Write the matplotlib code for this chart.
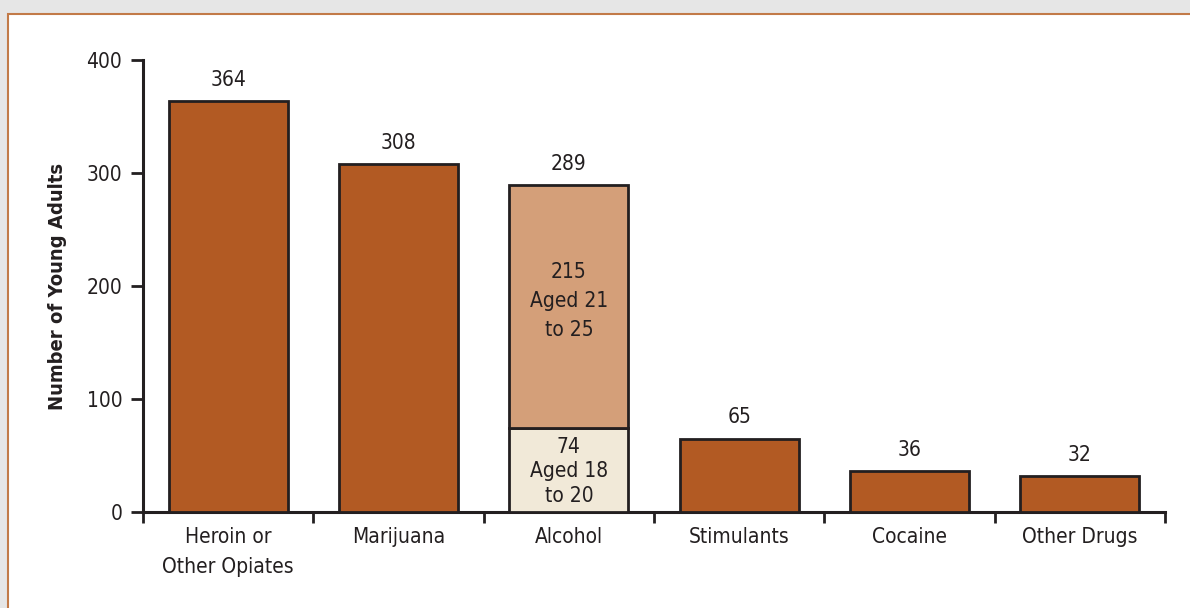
import matplotlib.pyplot as plt
from matplotlib.patches import Rectangle

categories = ["Heroin or\nOther Opiates", "Marijuana", "Alcohol", "Stimulants", "Cocaine", "Other Drugs"]
totals = [364, 308, 289, 65, 36, 32]
alcohol_18_20 = 74
alcohol_21_25 = 215

plt.rcParams["font.family"] = ["DejaVu Sans"]
plt.rcParams["font.stretch"] = "condensed"

dark = "#231f20"
rust = "#b25a23"

fig = plt.figure(figsize=(11.9, 6.08), dpi=100, facecolor="#e6e6e6")
# white panel with thin orange frame, running off the right and bottom edges
fig.patches.append(Rectangle((8 / 1190, -0.05), 1.0, (608 - 14) / 608 + 0.05, transform=fig.transFigure,
                             facecolor="white", edgecolor="#c27a48", linewidth=1.5, zorder=-1))

ax = fig.add_axes([143 / 1190, 96 / 608, (1165 - 143) / 1190, (512 - 60) / 608])
ax.set_facecolor("none")

x = list(range(len(categories)))
w = 0.7
for i, v in enumerate(totals):
    if categories[i] == "Alcohol":
        ax.bar(i, alcohol_18_20, w, color="#f1e9d8", edgecolor=dark, linewidth=2, zorder=3)
        ax.bar(i, alcohol_21_25, w, bottom=alcohol_18_20, color="#d49f79", edgecolor=dark, linewidth=2, zorder=3)
        ax.text(i, alcohol_18_20 / 2 - 1, f"{alcohol_18_20}\nAged 18\nto 20", ha="center", va="center",
                fontsize=15, color=dark, linespacing=1.3, zorder=4)
        ax.text(i, alcohol_18_20 + alcohol_21_25 / 2 + 5, f"{alcohol_21_25}\nAged 21\nto 25", ha="center",
                va="center", fontsize=15, color=dark, linespacing=1.55, zorder=4)
    else:
        ax.bar(i, v, w, color=rust, edgecolor=dark, linewidth=2, zorder=3)
    ax.annotate(str(v), (i, v), xytext=(0, 8), textcoords="offset points", ha="center", va="bottom",
                fontsize=15, color=dark)

ax.set_xlim(-0.5, len(categories) - 0.5)
ax.set_ylim(0, 400)
ax.set_yticks([0, 100, 200, 300, 400])
ax.set_xticks(x)
ax.set_xticklabels(categories, fontsize=15, color=dark, linespacing=1.6)
ax.set_xticks([i - 0.5 for i in range(len(categories) + 1)], minor=True)
ax.tick_params(axis="x", which="major", length=0, pad=11)
ax.tick_params(axis="x", which="minor", length=8, width=2, color=dark, direction="out")
ax.tick_params(axis="y", length=9, width=2, color=dark, labelsize=15, labelcolor=dark, pad=6)

for s in ["top", "right"]:
    ax.spines[s].set_visible(False)
for s in ["left", "bottom"]:
    ax.spines[s].set_linewidth(2.2)
    ax.spines[s].set_color(dark)

ax.set_ylabel("Number of Young Adults", fontsize=14.5, fontweight="bold", color=dark, labelpad=14)

fig.savefig("out.png", dpi=100, facecolor=fig.get_facecolor())
